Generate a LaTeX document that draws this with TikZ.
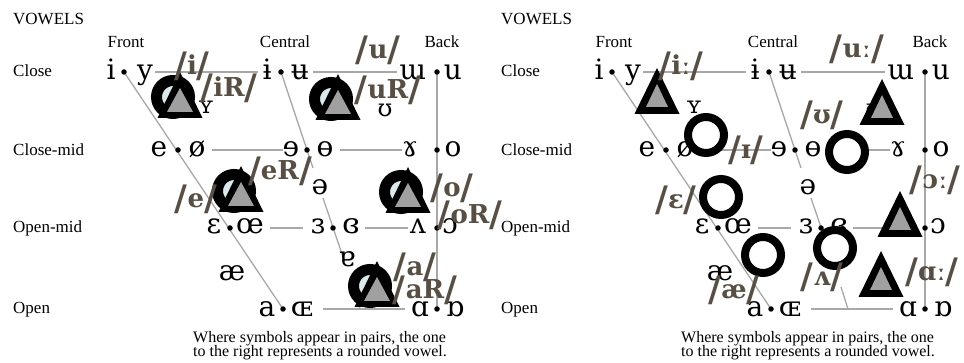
\documentclass[tikz,border=0pt]{standalone}
\usepackage{fontspec}
\usepackage{graphicx}
\usetikzlibrary{calc}
\setmainfont{Liberation Serif}
\newfontfamily\ipafont{DejaVu Serif}
\definecolor{chartline}{RGB}{168,168,168}
\definecolor{labc}{RGB}{88,79,68}
\definecolor{trigray}{RGB}{160,160,160}
\definecolor{ringfill}{RGB}{218,233,236}
\newcommand\bsl{\raisebox{-2.5pt}{\scalebox{1.35}{/}}}
\tikzset{
  sym/.style={anchor=base, inner sep=0pt, font=\ipafont\fontsize{28}{28}\selectfont},
  symsmall/.style={anchor=base, inner sep=0pt, font=\ipafont\fontsize{24}{24}\selectfont},
  rowlab/.style={anchor=base west, inner sep=0pt, font=\fontsize{17}{17}\selectfont},
  collab/.style={anchor=base, inner sep=0pt, font=\fontsize{17}{17}\selectfont},
  captxt/.style={anchor=base west, inner sep=0pt, font=\fontsize{16}{16}\selectfont},
  gl/.style={draw=chartline, line width=1.3pt},
  vdot/.style={circle, fill=black, inner sep=0pt, minimum size=5.5pt},
  ring/.style={circle, draw=black, line width=8pt, minimum size=36pt, inner sep=0pt},
  cring/.style={circle, draw=black, line width=11pt, minimum size=33pt, inner sep=0pt, fill=ringfill},
  lab/.style={inner sep=0pt, text=labc, font=\ipafont\bfseries\fontsize{26}{26}\selectfont},
}
\newcommand\vtri[1]{%
  \begin{scope}[shift={(#1)}]
    \fill[black] (-22.5,0) -- (22.5,0) -- (0,-46) -- cycle;
    \fill[trigray] (-11,-7) -- (11,-7) -- (0,-30) -- cycle;
  \end{scope}}
\newcommand\vctri[1]{%
  \begin{scope}[shift={(#1)}]
    \fill[black] (-22.5,0) -- (22.5,0) -- (0,-46) -- cycle;
    \fill[trigray] (-13,-6) -- (13,-6) -- (0,-30) -- cycle;
  \end{scope}}
\newcommand\vcombo[2]{%
  \node[cring] (#1) at (#2) {};
  \coordinate (#1-t) at ($(#1)+(7,21)$);
  \vctri{#1-t}}
\newcommand\vowelchart[1]{%
  \node[rowlab] (#1-vow) at (13,25) {VOWELS};
  \node[collab] (#1-front) at (126,48) {Front};
  \node[collab] (#1-central) at (285,48) {Central};
  \node[collab] (#1-back) at (442,48) {Back};
  \node[rowlab] (#1-close) at (13,77) {Close};
  \node[rowlab] (#1-closemid) at (13,156) {Close-mid};
  \node[rowlab] (#1-openmid) at (13,233) {Open-mid};
  \node[rowlab] (#1-open) at (13,314) {Open};
  % line end points
  \coordinate (#1-h1a) at (155,72); \coordinate (#1-h1b) at (258,72);
  \coordinate (#1-h2a) at (313,72); \coordinate (#1-h2b) at (397,72);
  \coordinate (#1-h3a) at (212,150); \coordinate (#1-h3b) at (283,150);
  \coordinate (#1-h4a) at (340,150); \coordinate (#1-h4b) at (402,150);
  \coordinate (#1-h5a) at (270,228); \coordinate (#1-h5b) at (303,228);
  \coordinate (#1-h6a) at (365,228); \coordinate (#1-h6b) at (408,228);
  \coordinate (#1-h7a) at (323,309); \coordinate (#1-h7b) at (405,309);
  \coordinate (#1-ca) at (313,168); \coordinate (#1-cb) at (323,198);
  \coordinate (#1-cc) at (343,257); \coordinate (#1-cd) at (353,287);
  \coordinate (#1-ce) at (360,309);
  \draw[gl] (#1-h1a) -- (#1-h1b);
  \draw[gl] (#1-h2a) -- (#1-h2b);
  \draw[gl] (#1-h3a) -- (#1-h3b);
  \draw[gl] (#1-h4a) -- (#1-h4b);
  \draw[gl] (#1-h5a) -- (#1-h5b);
  \draw[gl] (#1-h6a) -- (#1-h6b);
  \draw[gl] (#1-h7a) -- (#1-h7b);
  \coordinate (#1-f1) at (124,72); \coordinate (#1-f4) at (283,309);
  \coordinate (#1-c1) at (281,72);
  \coordinate (#1-b1) at (437,72); \coordinate (#1-b4) at (437,309);
  \draw[gl] (#1-f1) -- (#1-f4);
  \draw[gl] (#1-b1) -- (#1-b4);
  \draw[gl] (#1-c1) -- (#1-ca);
  \draw[gl] (#1-cb) -- (#1-cc);
  \draw[gl] (#1-cd) -- (#1-ce);
  % dots
  \node[vdot] (#1-d1) at (124,72) {};
  \node[vdot] (#1-d2) at (178,150) {};
  \node[vdot] (#1-d3) at (230,228) {};
  \node[vdot] (#1-d4) at (283,309) {};
  \node[vdot] (#1-d5) at (281,72) {};
  \node[vdot] (#1-d6) at (307,150) {};
  \node[vdot] (#1-d7) at (333,228) {};
  \node[vdot] (#1-d8) at (437,72) {};
  \node[vdot] (#1-d9) at (437,150) {};
  \node[vdot] (#1-d10) at (437,228) {};
  \node[vdot] (#1-d11) at (437,309) {};
  % symbols
  \node[sym] (#1-s1) at (111,80) {i};
  \node[sym] (#1-s2) at (145,80) {y};
  \node[sym] (#1-s3) at (267,80) {ɨ};
  \node[sym] (#1-s4) at (300,80) {ʉ};
  \node[sym] (#1-s5) at (413,80) {ɯ};
  \node[sym] (#1-s6) at (453,80) {u};
  \node[sym] (#1-s7) at (159,157) {e};
  \node[sym] (#1-s8) at (197,157) {ø};
  \node[sym] (#1-s9) at (291,157) {ɘ};
  \node[sym] (#1-s10) at (325,157) {ɵ};
  \node[sym] (#1-s11) at (410,157) {ɤ};
  \node[sym] (#1-s12) at (453,157) {o};
  \node[sym] (#1-s13) at (214,234) {ɛ};
  \node[sym] (#1-s14) at (250,234) {œ};
  \node[sym] (#1-s15) at (318,234) {ɜ};
  \node[sym] (#1-s16) at (351,234) {ɞ};
  \node[sym] (#1-s17) at (418,234) {ʌ};
  \node[sym] (#1-s18) at (450,234) {ɔ};
  \node[sym] (#1-s19) at (267,317) {a};
  \node[sym] (#1-s20) at (302,317) {ɶ};
  \node[sym] (#1-s21) at (420,317) {ɑ};
  \node[sym] (#1-s22) at (455,317) {ɒ};
  \node[symsmall] (#1-s23) at (180,114) {ɪ};
  \node[symsmall] (#1-s24) at (206,114) {ʏ};
  \node[symsmall] (#1-s25) at (385,117) {ʊ};
  \node[sym] (#1-s26) at (320,195) {ə};
  \node[sym] (#1-s27) at (232,281) {æ};
  \node[sym] (#1-s28) at (347,267) {ɐ};
  % caption
  \node[captxt] (#1-cap1) at (193,342) {Where symbols appear in pairs, the one};
  \node[captxt] (#1-cap2) at (193,356) {to the right represents a rounded vowel.};
}
\begin{document}
\begin{tikzpicture}[x=1pt,y=-1pt]
\useasboundingbox (0,0) rectangle (964,363);
\vowelchart{L}
\begin{scope}[xshift=488pt]
\vowelchart{R}
\end{scope}
% left overlays: ring + triangle
\vcombo{ki}{173,97}
\vcombo{ku}{331,99}
\vcombo{ke}{234,191}
\vcombo{ko}{401,192}
\vcombo{ka}{370,286}
% right overlays
\node[ring, fill=white] (r1) at (706,135) {};
\node[ring, fill=white] (r2) at (721,197) {};
\node[ring, fill=white] (r3) at (847,152) {};
\node[ring, fill=white] (r4) at (763,255) {};
\node[ring, fill=white] (r5) at (835,248) {};
\coordinate (t1) at (657,114); \vtri{t1}
\coordinate (t2) at (882,125); \vtri{t2}
\coordinate (t3) at (900,237); \vtri{t3}
\coordinate (t4) at (881,297); \vtri{t4}
% labels left
\node[lab] (li) at (192,66) {\bsl i\bsl};
\node[lab] (liR) at (229,88) {\bsl iR\bsl};
\node[lab] (lu) at (378,50) {\bsl u\bsl};
\node[lab] (luR) at (388,90) {\bsl uR\bsl};
\node[lab] (le) at (196,199) {\bsl e\bsl};
\node[lab] (leR) at (280,171) {\bsl eR\bsl};
\node[lab] (lo) at (452,188) {\bsl o\bsl};
\node[lab] (loR) at (470,215) {\bsl oR\bsl};
\node[lab] (la) at (415,267) {\bsl a\bsl};
\node[lab] (laR) at (425,290) {\bsl aR\bsl};
% labels right
\node[lab] (ri) at (681,66) {\bsl iː\bsl};
\node[lab] (ru) at (857,49) {\bsl uː\bsl};
\node[lab] (rU) at (822,115) {\bsl ʊ\bsl};
\node[lab] (rI) at (746,150) {\bsl ɪ\bsl};
\node[lab] (rE) at (676,200) {\bsl ɛ\bsl};
\node[lab] (rO) at (935,180) {\bsl ɔː\bsl};
\node[lab] (rae) at (734,290) {\bsl æ\bsl};
\node[lab] (rV) at (822,277) {\bsl ʌ\bsl};
\node[lab] (rA) at (932,272) {\bsl ɑː\bsl};
\end{tikzpicture}
\end{document}
